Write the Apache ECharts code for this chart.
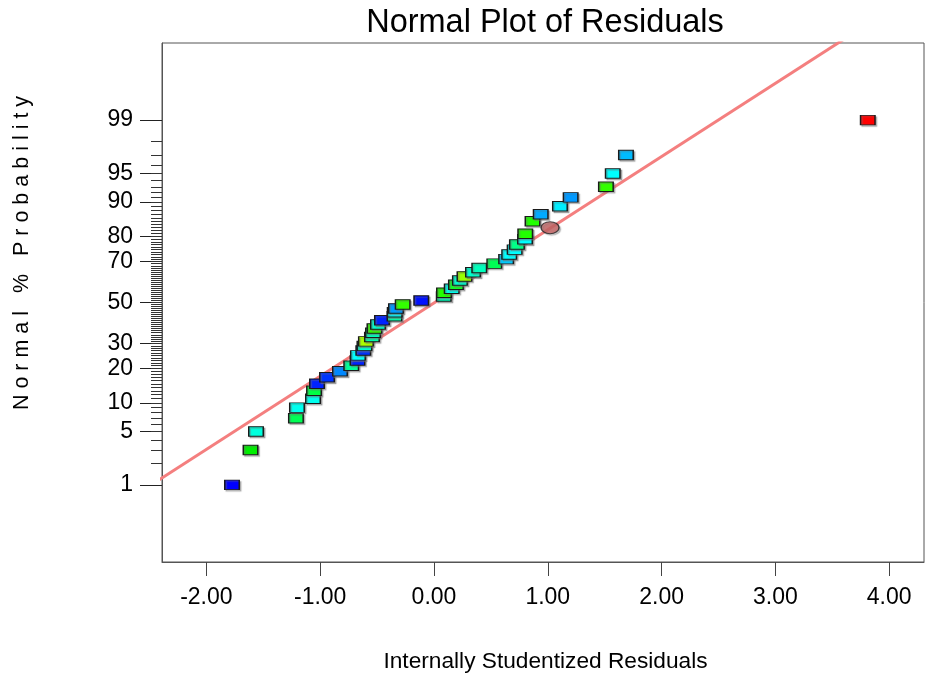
<!DOCTYPE html>
<html>
<head>
<meta charset="utf-8">
<script src="https://cdn.jsdelivr.net/npm/echarts@6/dist/echarts.min.js"></script>
<style>
html,body{margin:0;padding:0;background:#fff;}
#chart{width:925px;height:675px;}
</style>
</head>
<body>
<div id="chart"></div>
<script>
// ---- data ----
const normalProbability = [1,3,5,7,9,11,13,15,17,19,21,23,25,27,29,31,33,35,37,39,41,43,45,47,49,51,53,55,57,59,61,63,65,67,69,71,73,75,77,79,81,85,87,89,91,93,95,97,99];
const studentizedResidual = [-1.775,-1.612,-1.564,-1.213,-1.204,-1.063,-1.054,-1.028,-0.940,-0.826,-0.727,-0.672,-0.668,-0.621,-0.611,-0.598,-0.545,-0.536,-0.523,-0.492,-0.457,-0.347,-0.345,-0.334,-0.275,-0.112,0.086,0.088,0.156,0.193,0.228,0.268,0.343,0.398,0.530,0.634,0.661,0.709,0.729,0.800,0.802,0.866,0.938,1.107,1.201,1.511,1.571,1.687,3.812];
const pointColors = ['#0000ff','#00ee00','#00ffdd','#00ff55','#00ffee','#00ffee','#00ff44','#0022ff','#0033ff','#0088ff','#00ff99','#0022ff','#00ffff','#0033ff','#00ffcc','#aaff00','#00ffaa','#00ffbb','#33ff00','#00ffcc','#0022ff','#00ffaa','#00ffff','#0099ff','#33ff00','#0011ff','#00ffbb','#22ff00','#00ffee','#11ff22','#00ffcc','#99ff00','#00ffcc','#00ffbb','#00ff55','#00ccff','#00ffff','#00ffff','#00ff88','#00ffff','#22ff00','#22ff00','#00aaff','#00eeff','#0099ff','#33ff00','#00ffff','#00bbff','#ff0000'];
const circleResidual = [1.02];
const circleProbability = [83];
const fitLineResidual = [-2.6, 4.4];
const fitLineQuantile = [-2.435, 4.103];
const xTickValues = [-2, -1, 0, 1, 2, 3, 4];
const yTickLabels = [1, 5, 10, 20, 30, 50, 70, 80, 90, 95, 99];

// ---- inverse normal CDF (probability scale) ----
function probit(p) {
  const a = [-3.969683028665376e+01, 2.209460984245205e+02, -2.759285104469687e+02, 1.383577518672690e+02, -3.066479806614716e+01, 2.506628277459239e+00];
  const b = [-5.447609879822406e+01, 1.615858368580409e+02, -1.556989798598866e+02, 6.680131188771972e+01, -1.328068155288572e+01];
  const c = [-7.784894002430293e-03, -3.223964580411365e-01, -2.400758277161838e+00, -2.549732539343734e+00, 4.374664141464968e+00, 2.938163982698783e+00];
  const d = [7.784695709041462e-03, 3.224671290700398e-01, 2.445134137142996e+00, 3.754408661907416e+00];
  const pl = 0.02425, ph = 1 - pl;
  let q, r;
  if (p < pl) {
    q = Math.sqrt(-2 * Math.log(p));
    return (((((c[0]*q+c[1])*q+c[2])*q+c[3])*q+c[4])*q+c[5]) / ((((d[0]*q+d[1])*q+d[2])*q+d[3])*q+1);
  }
  if (p <= ph) {
    q = p - 0.5; r = q * q;
    return (((((a[0]*r+a[1])*r+a[2])*r+a[3])*r+a[4])*r+a[5])*q / (((((b[0]*r+b[1])*r+b[2])*r+b[3])*r+b[4])*r+1);
  }
  q = Math.sqrt(-2 * Math.log(1 - p));
  return -(((((c[0]*q+c[1])*q+c[2])*q+c[3])*q+c[4])*q+c[5]) / ((((d[0]*q+d[1])*q+d[2])*q+d[3])*q+1);
}
const pctToZ = v => probit(v / 100);

const majorZ = yTickLabels.map(pctToZ);
const minorZ = [];
for (let k = 2; k <= 98; k++) minorZ.push(pctToZ(k));
function zLabel(z) {
  let best = 0, bd = Infinity;
  majorZ.forEach((m, i) => { const dd = Math.abs(m - z); if (dd < bd) { bd = dd; best = i; } });
  return String(yTickLabels[best]);
}

const rectData = studentizedResidual.map((x, i) => ({
  value: [x, pctToZ(normalProbability[i])],
  itemStyle: { color: pointColors[i] }
}));
const circleData = circleResidual.map((x, i) => [x, pctToZ(circleProbability[i])]);
const lineData = fitLineResidual.map((x, i) => [x, fitLineQuantile[i]]);

const FONT = 'Liberation Sans, Arial, sans-serif';
const chart = echarts.init(document.getElementById('chart'), null, { renderer: 'canvas' });
chart.setOption({
  animation: false,
  backgroundColor: '#ffffff',
  title: {
    text: 'Normal Plot of Residuals',
    left: 540, top: 2, textAlign: 'center',
    textStyle: { fontFamily: FONT, fontSize: 32.5, fontWeight: 'normal', color: '#000' }
  },
  grid: { left: 162, top: 43, right: 1, bottom: 113, show: true, borderColor: '#555', borderWidth: 1,
    outerBoundsMode: 'none', containLabel: false },
  xAxis: {
    type: 'value', min: -2.39, max: 4.306,
    axisLine: { show: true, onZero: false, lineStyle: { color: '#555', width: 1 } },
    axisTick: { show: true, customValues: xTickValues, length: 14, lineStyle: { color: '#444', width: 1 } },
    axisLabel: { customValues: xTickValues, margin: 24, fontFamily: FONT, fontSize: 23, color: '#000',
      formatter: v => Number(v).toFixed(2) },
    splitLine: { show: false },
    name: 'Internally Studentized Residuals', nameLocation: 'middle', nameGap: 88,
    nameTextStyle: { fontFamily: FONT, fontSize: 22.7, color: '#000', padding: [0, 0, 0, 5] }
  },
  yAxis: [{
    type: 'value', min: -3.31, max: 3.31, position: 'left',
    axisLine: { show: true, onZero: false, lineStyle: { color: '#555', width: 1 } },
    axisTick: { show: true, customValues: majorZ, length: 22, lineStyle: { color: '#222', width: 1 } },
    axisLabel: { customValues: majorZ, margin: 29, fontFamily: FONT, fontSize: 23, color: '#000', formatter: zLabel },
    splitLine: { show: false }
  }, {
    type: 'value', min: -3.31, max: 3.31, position: 'left', offset: 0,
    axisLine: { show: false, onZero: false },
    axisTick: { show: true, customValues: minorZ, length: 11, lineStyle: { color: '#333', width: 1 } },
    axisLabel: { show: false },
    splitLine: { show: false }
  }],
  graphic: [{
    type: 'text', x: 22, y: 253, rotation: Math.PI / 2,
    style: { text: 'N o r m a l   %   P r o b a b i l i t y', fontFamily: FONT, fontSize: 21.5, fill: '#000',
      textAlign: 'center', textVerticalAlign: 'middle' }
  }],
  series: [{
    type: 'line', data: lineData, symbol: 'none', clip: true, z: 2,
    lineStyle: { color: '#f47f7f', width: 3 }, silent: true
  }, {
    type: 'scatter', data: rectData, symbol: 'rect', symbolSize: [14.5, 9.5], z: 3,
    itemStyle: { borderColor: '#1a1a1a', borderWidth: 1.2, opacity: 1,
      shadowColor: 'rgba(110,110,110,0.45)', shadowOffsetX: 1.5, shadowOffsetY: 1.5, shadowBlur: 1 }
  }, {
    type: 'scatter', data: circleData, symbol: 'circle', symbolSize: [18, 12], z: 4,
    itemStyle: { color: '#c46262', borderColor: '#222', borderWidth: 1.2,
      shadowColor: 'rgba(110,110,110,0.45)', shadowOffsetX: 1.5, shadowOffsetY: 1.5, shadowBlur: 1 }
  }]
});
</script>
</body>
</html>
